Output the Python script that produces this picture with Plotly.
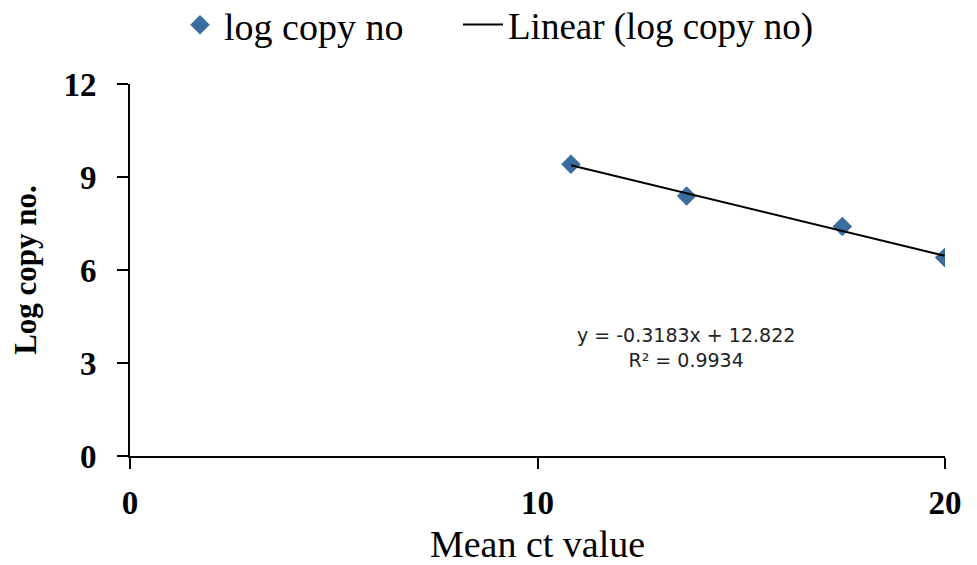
import numpy as np
import plotly.graph_objects as go

# Data
mean_ct = [10.82, 13.66, 17.48, 19.99]
log_copy = [9.41, 8.39, 7.40, 6.40]

# Trendline parameters as shown on the chart
slope = -0.3183
intercept = 12.822
r_squared = 0.9934

x_ticks = [0, 10, 20]
y_ticks = [0, 3, 6, 9, 12]

trend_x = [min(mean_ct), max(mean_ct)]
trend_y = [slope * v + intercept for v in trend_x]

serif = "Liberation Serif, Times New Roman, serif"
W, H = 977, 565

fig = go.Figure()
fig.add_trace(go.Scatter(
    x=mean_ct, y=log_copy, mode="markers", name="log copy no",
    marker=dict(symbol="diamond", size=15, color="#3A6C9E",
                line=dict(width=0)),
    legend="legend",
))
fig.add_trace(go.Scatter(
    x=trend_x, y=trend_y, mode="lines", name="Linear (log copy no)",
    line=dict(color="black", width=2),
    legend="legend2",
))

fig.add_annotation(
    x=13.64, y=3.5, xref="x", yref="y", showarrow=False,
    text=f"y = {slope}x + {intercept}<br>R² = {r_squared}",
    font=dict(family="DejaVu Sans, Verdana, sans-serif", size=19, color="#222"),
    align="center",
)

fig.update_layout(
    width=W, height=H,
    margin=dict(l=129.5, r=32, t=84, b=109),
    paper_bgcolor="white", plot_bgcolor="white",
    showlegend=True,
    legend=dict(orientation="h", xref="container", yref="container",
                x=176 / W, xanchor="left", y=1 - 25 / H, yanchor="middle",
                font=dict(family=serif, size=38, color="black"),
                itemwidth=38, bgcolor="rgba(0,0,0,0)"),
    legend2=dict(orientation="h", xref="container", yref="container",
                 x=458 / W, xanchor="left", y=1 - 25 / H, yanchor="middle",
                 font=dict(family=serif, size=37, color="black"),
                 itemwidth=40, bgcolor="rgba(0,0,0,0)"),
    xaxis=dict(range=[0, 20], tickvals=x_ticks, showgrid=False, zeroline=False,
               showline=True, linecolor="black", linewidth=2, automargin=False,
               ticks="outside", ticklen=11, tickwidth=2, tickcolor="black",
               tickfont=dict(family=serif, size=33, color="black", weight="bold"),
               ticklabelstandoff=5,
               title=dict(text="Mean ct value", standoff=16,
                          font=dict(family=serif, size=38, color="black"))),
    yaxis=dict(range=[0, 12], tickvals=y_ticks, showgrid=False, zeroline=False,
               showline=True, linecolor="black", linewidth=2, automargin=False,
               ticks="outside", ticklen=11, tickwidth=2, tickcolor="black",
               tickfont=dict(family=serif, size=33, color="black", weight="bold"),
               ticklabelstandoff=14,
               title=dict(text="Log copy no.", standoff=18,
                          font=dict(family=serif, size=31, color="black", weight="bold"))),
)

fig.write_html("out.html")
